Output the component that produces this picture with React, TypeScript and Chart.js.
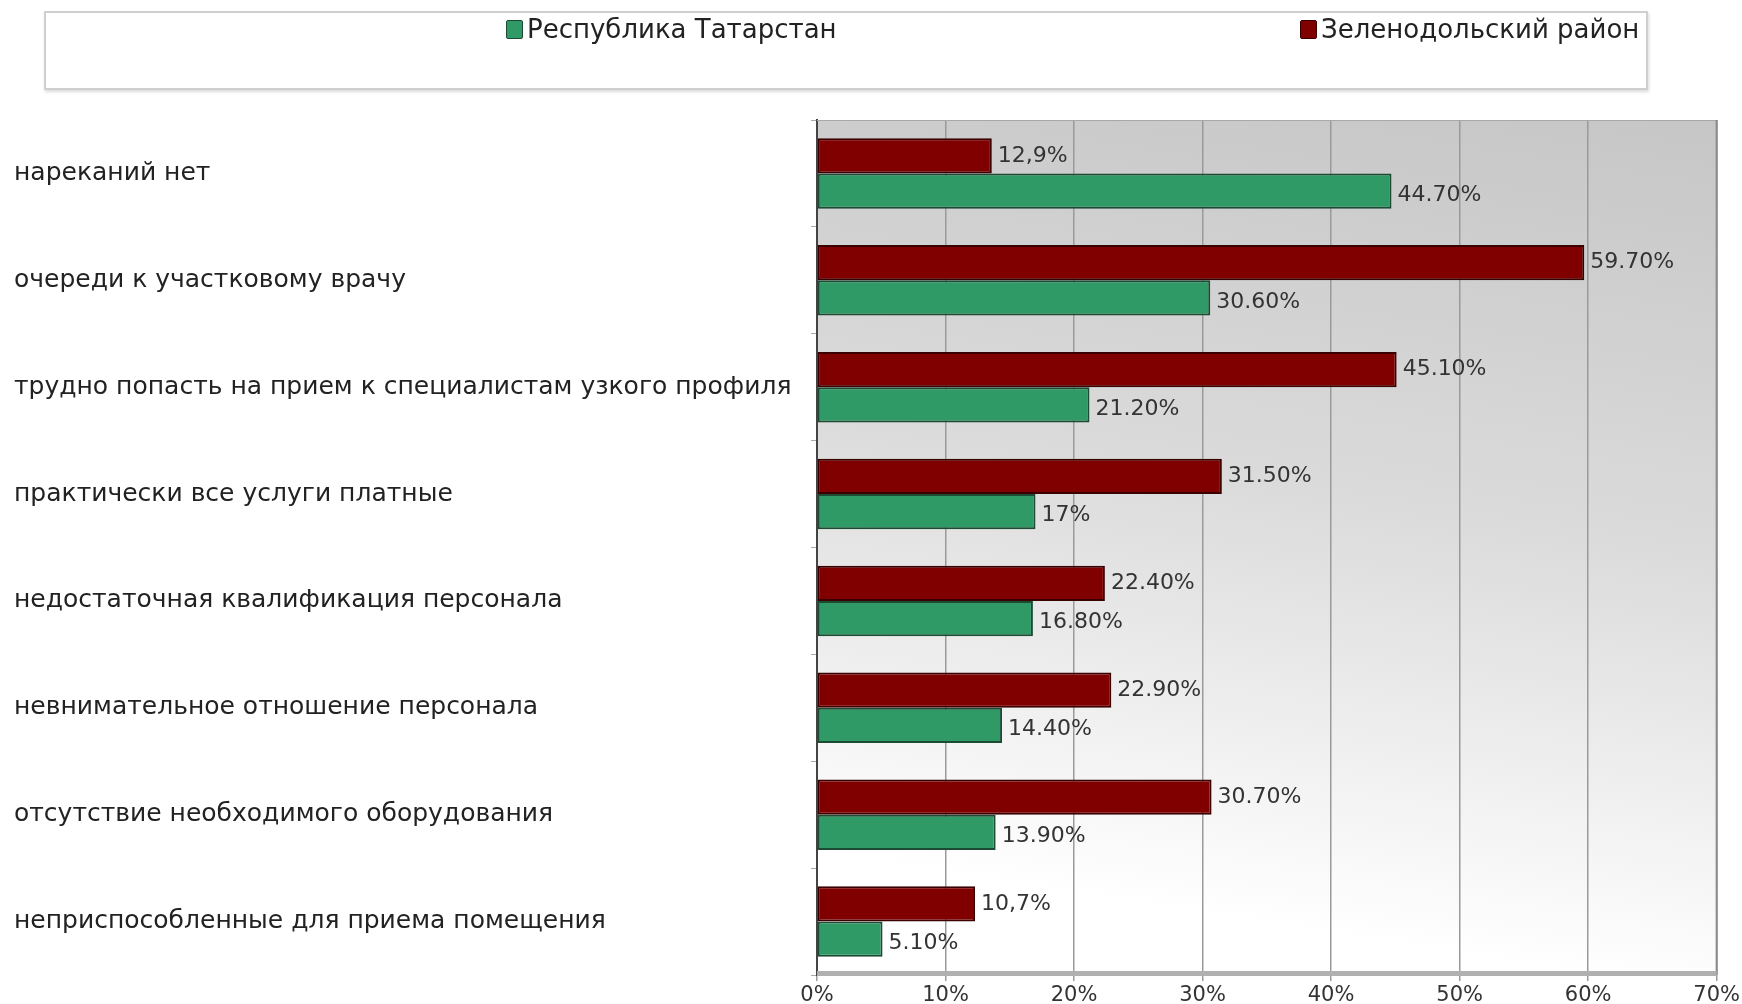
import React, { useEffect, useRef } from "react";
import { Chart, registerables } from "chart.js";

Chart.register(...registerables);

const categories = [
  "нареканий нет",
  "очереди к участковому врачу",
  "трудно попасть на прием к специалистам узкого профиля",
  "практически все услуги платные",
  "недостаточная квалификация персонала",
  "невнимательное отношение персонала",
  "отсутствие необходимого оборудования",
  "неприспособленные для приема помещения",
];

const seriesNames = ["Республика Татарстан", "Зеленодольский район"];

// Bar lengths as drawn in the picture
const valuesRT = [44.7, 30.6, 21.2, 17, 16.8, 14.4, 13.9, 5.1];
const valuesZR = [13.6, 59.7, 45.1, 31.5, 22.4, 22.9, 30.7, 12.3];

// Value labels as printed in the picture
const labelsRT = ["44.70%", "30.60%", "21.20%", "17%", "16.80%", "14.40%", "13.90%", "5.10%"];
const labelsZR = ["12,9%", "59.70%", "45.10%", "31.50%", "22.40%", "22.90%", "30.70%", "10,7%"];

const xMin = 0;
const xMax = 70;
const xStep = 10;

const GREEN = "#2f9a66";
const GREEN_BORDER = "#1c4a32";
const RED = "#800000";
const RED_BORDER = "#3a0000";

const bgPlugin = {
  id: "plotBg",
  beforeDraw(chart: any) {
    const { ctx, chartArea: a } = chart;
    if (!a) return;
    ctx.save();
    const w = a.right - a.left;
    const g = ctx.createLinearGradient(a.right, a.top, a.left + w * 0.85, a.bottom);
    g.addColorStop(0, "#c6c6c6");
    g.addColorStop(0.5, "#dbdbdb");
    g.addColorStop(1, "#ffffff");
    ctx.fillStyle = g;
    ctx.fillRect(a.left, a.top, w, a.bottom - a.top);
    ctx.restore();
  },
  afterDraw(chart: any) {
    const { ctx, chartArea: a } = chart;
    ctx.save();
    ctx.strokeStyle = "#a8a8a8";
    ctx.lineWidth = 1;
    ctx.beginPath();
    ctx.moveTo(a.left, a.top + 0.5);
    ctx.lineTo(a.right, a.top + 0.5);
    ctx.stroke();
    ctx.strokeStyle = "#8a8a8a";
    ctx.lineWidth = 2;
    ctx.beginPath();
    ctx.moveTo(a.right, a.top);
    ctx.lineTo(a.right, a.bottom);
    ctx.stroke();
    ctx.fillStyle = "#b0b0b0";
    ctx.fillRect(a.left, a.bottom - 4, a.right - a.left, 5);
    ctx.restore();
  },
};

const labelPlugin = {
  id: "valueLabels",
  afterDatasetsDraw(chart: any) {
    const { ctx } = chart;
    ctx.save();
    ctx.font = "22px 'DejaVu Sans'";
    ctx.fillStyle = "#333333";
    ctx.textAlign = "left";
    ctx.textBaseline = "middle";
    chart.data.datasets.forEach((ds: any, di: number) => {
      const meta = chart.getDatasetMeta(di);
      const texts = ds.valueLabels as string[];
      meta.data.forEach((el: any, i: number) => {
        const dy = di === 1 ? 4 : 0;
        ctx.fillText(texts[i], el.x + 6, el.y + dy);
      });
    });
    ctx.restore();
  },
};

export default function App() {
  const ref = useRef<HTMLCanvasElement | null>(null);

  useEffect(() => {
    if (!ref.current) return;
    const chart = new Chart(ref.current, {
      type: "bar",
      data: {
        labels: categories,
        datasets: [
          {
            label: seriesNames[1],
            data: valuesZR,
            backgroundColor: RED,
            borderColor: RED_BORDER,
            borderWidth: 2,
            borderSkipped: false,
            categoryPercentage: 0.66,
            barPercentage: 1.0,
            valueLabels: labelsZR,
          } as any,
          {
            label: seriesNames[0],
            data: valuesRT,
            backgroundColor: GREEN,
            borderColor: GREEN_BORDER,
            borderWidth: 2,
            borderSkipped: false,
            categoryPercentage: 0.66,
            barPercentage: 1.0,
            valueLabels: labelsRT,
          } as any,
        ],
      },
      options: {
        indexAxis: "y",
        responsive: false,
        animation: false,
        layout: { padding: { left: 14, right: 22, top: 120, bottom: 0 } },
        plugins: {
          legend: { display: false },
          title: { display: false },
          tooltip: { enabled: false },
        },
        scales: {
          x: {
            type: "linear",
            min: xMin,
            max: xMax,
            ticks: {
              stepSize: xStep,
              padding: 2,
              color: "#333333",
              font: { family: "'DejaVu Sans'", size: 21 },
              callback: (v: any) => v + "%",
            },
            grid: {
              color: "#9a9a9a",
              lineWidth: 1.5,
              tickLength: 6,
            },
            border: { display: false },
            afterFit: (s: any) => {
              s.height = 29;
            },
          },
          y: {
            ticks: {
              crossAlign: "far",
              color: "#222222",
              font: { family: "'DejaVu Sans'", size: 25 },
            },
            grid: {
              drawOnChartArea: false,
              color: "#aaaaaa",
              tickLength: 6,
            },
            border: { display: true, color: "#444444", width: 2 },
            afterFit: (s: any) => {
              s.width = 803;
            },
          },
        },
      },
      plugins: [bgPlugin, labelPlugin],
    });
    return () => chart.destroy();
  }, []);

  const legendText: React.CSSProperties = {
    position: "absolute",
    top: 14,
    fontFamily: "'DejaVu Sans'",
    fontSize: 26,
    lineHeight: "30px",
    color: "#222",
    whiteSpace: "nowrap",
  };
  const sw: React.CSSProperties = {
    position: "absolute",
    top: 20,
    width: 15,
    height: 17,
    borderRadius: 2,
  };

  return (
    <div style={{ position: "fixed", left: 0, top: 0, width: 1742, height: 1004, background: "#fff" }}>
      <canvas ref={ref} width={1742} height={1004} style={{ position: "absolute", left: 0, top: 0 }} />
      <div
        style={{
          position: "absolute",
          left: 44,
          top: 11,
          width: 1600,
          height: 75,
          border: "2px solid #cfcfcf",
          boxShadow: "1px 2px 3px rgba(0,0,0,0.15)",
          background: "#fff",
        }}
      />
      <div style={{ ...sw, left: 506, background: GREEN, border: "1px solid " + GREEN_BORDER }} />
      <div style={{ ...legendText, left: 527 }}>{seriesNames[0]}</div>
      <div style={{ ...sw, left: 1300, background: RED, border: "1px solid " + RED_BORDER }} />
      <div style={{ ...legendText, left: 1321 }}>{seriesNames[1]}</div>
    </div>
  );
}
